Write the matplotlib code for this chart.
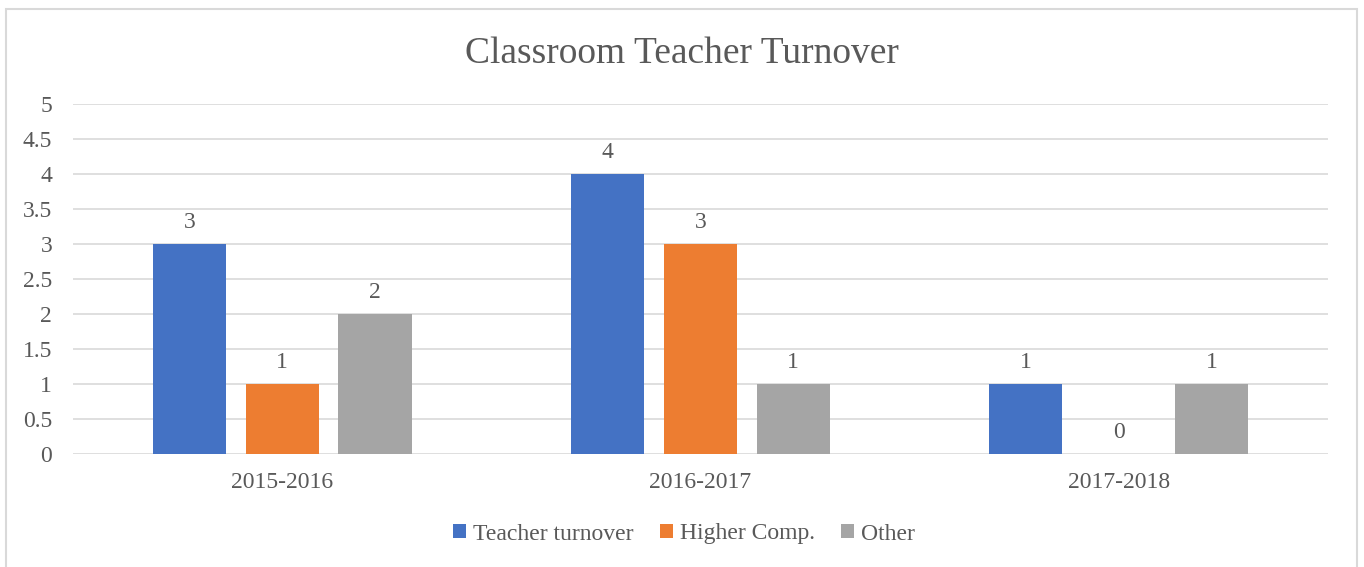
import numpy as np
import matplotlib.pyplot as plt
from matplotlib.patches import Rectangle

years = ['2015-2016', '2016-2017', '2017-2018']
series = ['Teacher turnover', 'Higher Comp.', 'Other']
teacher_turnover = [3, 4, 1]
higher_comp = [1, 3, 0]
other = [2, 1, 1]
colors = ['#4472C4', '#ED7D31', '#A5A5A5']

plt.rcParams['font.family'] = ['Liberation Serif', 'DejaVu Serif']
txt = '#595959'

fig = plt.figure(figsize=(13.64, 5.67), dpi=100)
ax = fig.add_axes([0.0535, 0.1993, 0.92, 0.6173])

# outer chart border
fig.patches.append(Rectangle((6 / 1364, -0.05), 1351 / 1364, 1 - 9 / 567 + 0.05,
                             transform=fig.transFigure, fill=False,
                             edgecolor='#D9D9D9', linewidth=1.5))

x = np.arange(len(years))
w = 0.175
step = 0.222
for i, (vals, name) in enumerate(zip([teacher_turnover, higher_comp, other], series)):
    pos = x + (i - 1) * step
    ax.bar(pos, vals, width=w, color=colors[i], label=name, zorder=3)
    for p, v in zip(pos, vals):
        ax.annotate(str(v), (p, v), xytext=(0, 8), textcoords='offset points',
                    ha='center', va='bottom', fontsize=17, color=txt)

ax.set_xlim(-0.5, 2.5)
ax.set_ylim(0, 5)
ax.set_yticks(np.arange(0, 5.01, 0.5))
ax.set_yticklabels(['0', '0.5', '1', '1.5', '2', '2.5', '3', '3.5', '4', '4.5', '5'])
ax.set_xticks(x)
ax.set_xticklabels(years)
ax.tick_params(axis='both', length=0, labelsize=17, labelcolor=txt)
ax.tick_params(axis='x', pad=13)
ax.tick_params(axis='y', pad=15)
ax.grid(axis='y', color='#D9D9D9', linewidth=1.2, zorder=0)
for s in ax.spines.values():
    s.set_visible(False)

fig.text(0.5, 1 - 54 / 567, 'Classroom Teacher Turnover', ha='center', va='center',
         fontsize=27, color=txt)

fig.legend(loc='center', bbox_to_anchor=(0.5015, 1 - 534 / 567), ncol=3, frameon=False,
           fontsize=17, labelcolor=txt, handlelength=0.55, handleheight=0.55,
           handletextpad=0.3, columnspacing=1.1)

fig.savefig('out.png', dpi=100)
